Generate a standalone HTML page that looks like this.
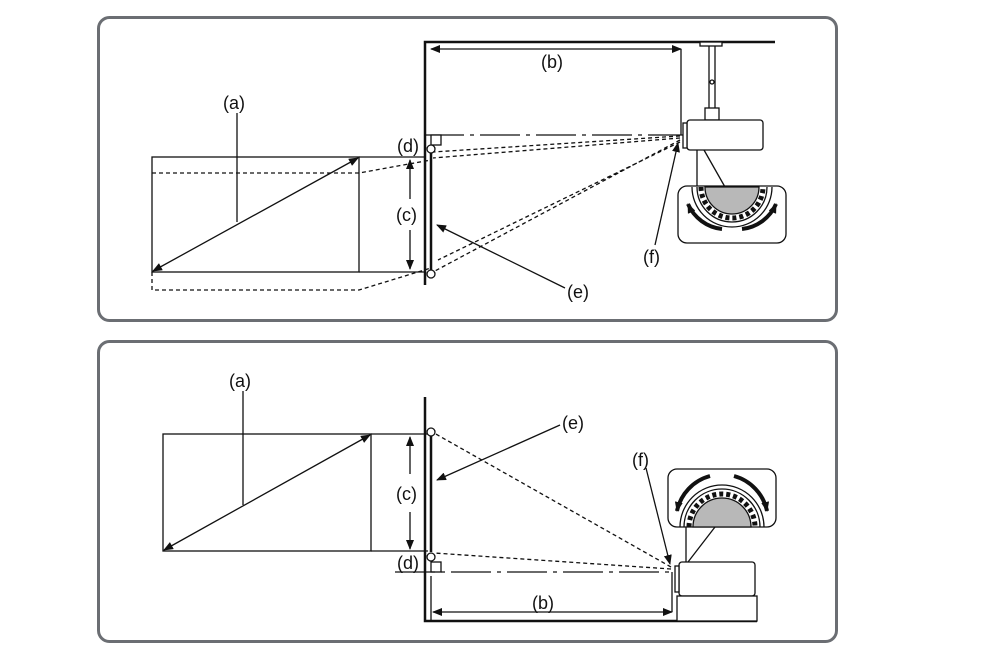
<!DOCTYPE html>
<html><head><style>body{margin:0;background:#fff}svg{display:block}text{font-family:"Liberation Sans",sans-serif;font-size:18px;fill:#111}</style></head><body>
<svg width="1000" height="667" viewBox="0 0 1000 667" xmlns="http://www.w3.org/2000/svg">
<defs>
<marker id="ar" markerWidth="10" markerHeight="8" refX="9" refY="4" orient="auto-start-reverse" markerUnits="userSpaceOnUse"><path d="M0,0 L10,4 L0,8z" fill="#111"/></marker>
</defs>
<g fill="none" stroke="#6b6e73" stroke-width="3">
<rect x="98.5" y="17.5" width="738" height="303" rx="11"/>
<rect x="98.5" y="341.5" width="738" height="300" rx="11"/>
</g>
<g stroke="#111" fill="none" stroke-width="1.3">
<!-- TOP -->
<path d="M425,285 V42 H775" stroke-width="2.5"/>
<path d="M431,145 V270" stroke-width="2.5"/>
<path d="M431,49 H681" marker-start="url(#ar)" marker-end="url(#ar)"/>
<path d="M681,49 V135"/>
<path d="M424,135 H683" stroke-dasharray="40,6,4,6"/>
<rect x="431" y="135" width="10" height="10" fill="#fff"/>
<circle cx="431" cy="149" r="4" fill="#fff"/>
<circle cx="431" cy="274" r="4" fill="#fff"/>
<rect x="700" y="42" width="22" height="4" fill="#fff"/>
<path d="M709,46 V110 M715,46 V110"/>
<circle cx="712" cy="82" r="2"/>
<rect x="705" y="108" width="14" height="12" fill="#fff"/>
<rect x="687" y="120" width="76" height="30" rx="3" fill="#fff"/>
<rect x="683" y="123" width="4" height="25" fill="#fff"/>
<rect x="152" y="157" width="207" height="115"/>
<path d="M153,271 L358,158" marker-start="url(#ar)" marker-end="url(#ar)"/>
<path d="M237,113 V222"/>
<path d="M152,272 V290 H359 L431,268 M152,173 H359 L431,160" stroke-dasharray="4,3"/>
<path d="M359,157 H425 M359,272 H425"/>
<path d="M410,199 V160" marker-end="url(#ar)"/>
<path d="M410,230 V269" marker-end="url(#ar)"/>
<path d="M680,136 L433,152 M680,138 L433,158 M680,140 L433,272 M680,142 L438,260" stroke-dasharray="4,3"/>
<path d="M565,288 L437,225" marker-end="url(#ar)"/>
<path d="M655,245 L678,143" marker-end="url(#ar)"/>
<path d="M697,150 V187 M704,150 L725,187"/>
<rect x="678" y="186" width="108" height="57" rx="9" fill="#fff"/>
<path d="M705,187 A27,27 0 0 0 759,187 Z" fill="#b8b8b8"/>
<path d="M701,187 A31,31 0 0 0 763,187" stroke-dasharray="4,3" stroke-width="5"/>
<path d="M697,187 A35,35 0 0 0 767,187 M692,187 A40,40 0 0 0 772,187"/>
<path d="M722,229 A42,42 0 0 1 688,204" stroke-width="4" marker-end="url(#ar)"/>
<path d="M742,229 A42,42 0 0 0 776,204" stroke-width="4" marker-end="url(#ar)"/>
<!-- BOTTOM -->
<path d="M425,397 V621 H757" stroke-width="2.5"/>
<path d="M431,436 V552" stroke-width="2.5"/>
<path d="M431,576 V621"/>
<rect x="163" y="434" width="208" height="117"/>
<path d="M164,550 L370,435" marker-start="url(#ar)" marker-end="url(#ar)"/>
<path d="M243,391 V505"/>
<path d="M371,434 H428 M371,551 H428"/>
<path d="M410,474 V437" marker-end="url(#ar)"/>
<path d="M410,512 V549" marker-end="url(#ar)"/>
<circle cx="431" cy="432" r="4" fill="#fff"/>
<circle cx="431" cy="557" r="4" fill="#fff"/>
<rect x="431" y="562" width="10" height="10" fill="#fff"/>
<path d="M395,572 H672" stroke-dasharray="40,6,4,6"/>
<path d="M433,612 H672" marker-start="url(#ar)" marker-end="url(#ar)"/>
<path d="M672,572 V612"/>
<path d="M671,567 L434,433 M671,569 L434,553" stroke-dasharray="4,3"/>
<path d="M560,425 L437,480" marker-end="url(#ar)"/>
<path d="M646,468 L670,564" marker-end="url(#ar)"/>
<rect x="679" y="562" width="76" height="34" rx="3" fill="#fff"/>
<rect x="675" y="566" width="4" height="26" fill="#fff"/>
<rect x="677" y="596" width="80" height="25" fill="#fff"/>
<path d="M686,562 V527 M688,562 L715,527"/>
<rect x="668" y="469" width="108" height="58" rx="9" fill="#fff"/>
<path d="M693,527 A29,29 0 0 1 751,527 Z" fill="#b8b8b8"/>
<path d="M689,527 A33,33 0 0 1 755,527" stroke-dasharray="4,3" stroke-width="5"/>
<path d="M684,527 A38,38 0 0 1 760,527 M680,527 A42,42 0 0 1 764,527"/>
<path d="M710,476 A46,46 0 0 0 677,511" stroke-width="4" marker-end="url(#ar)"/>
<path d="M734,476 A46,46 0 0 1 767,511" stroke-width="4" marker-end="url(#ar)"/>
</g>
<text x="223" y="109">(a)</text>
<text x="541" y="68">(b)</text>
<text x="396" y="221">(c)</text>
<text x="397" y="152">(d)</text>
<text x="567" y="298">(e)</text>
<text x="643" y="263">(f)</text>
<text x="229" y="387">(a)</text>
<text x="532" y="609">(b)</text>
<text x="396" y="500">(c)</text>
<text x="397" y="569">(d)</text>
<text x="562" y="429">(e)</text>
<text x="632" y="466">(f)</text>
</svg>
</body></html>
